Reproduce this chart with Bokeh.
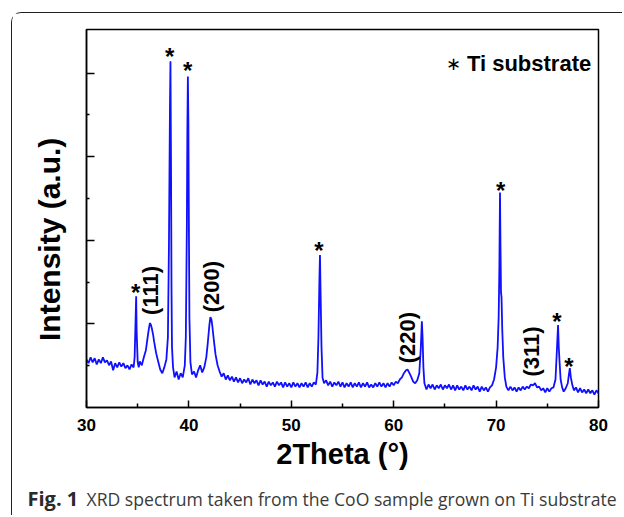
import math
from bokeh.plotting import figure
from bokeh.models import Range1d, FixedTicker
from bokeh.layouts import column
from bokeh.core.properties import value
from bokeh.embed import file_html
from bokeh.resources import INLINE

# ---- data (2Theta in degrees, intensity in a.u.) ----
two_theta = [
    30.0, 30.2, 30.4, 30.6, 30.8, 31.0, 31.2, 31.4, 31.6, 31.8,
    32.0, 32.2, 32.4, 32.6, 32.8, 33.0, 33.2, 33.4, 33.6, 33.8,
    34.0, 34.2, 34.4, 34.6, 34.7, 34.8, 34.85, 34.9, 35.0, 35.1,
    35.2, 35.4, 35.6, 35.8, 36.0, 36.1, 36.2, 36.3, 36.4, 36.5,
    36.6, 36.8, 37.0, 37.2, 37.4, 37.6, 37.8, 37.95, 38.05, 38.1,
    38.15, 38.2, 38.25, 38.3, 38.35, 38.45, 38.6, 38.8, 39.0, 39.2,
    39.4, 39.6, 39.7, 39.8, 39.85, 39.9, 39.95, 40.0, 40.05, 40.15,
    40.3, 40.5, 40.7, 40.9, 41.1, 41.3, 41.5, 41.7, 41.85, 42.0,
    42.1, 42.2, 42.3, 42.45, 42.6, 42.8, 43.0, 43.2, 43.4, 43.6,
    43.8, 44.0, 44.2, 44.4, 44.6, 44.8, 45.0, 45.2, 45.4, 45.6,
    45.8, 46.0, 46.2, 46.4, 46.6, 46.8, 47.0, 47.2, 47.4, 47.6,
    47.8, 48.0, 48.2, 48.4, 48.6, 48.8, 49.0, 49.2, 49.4, 49.6,
    49.8, 50.0, 50.2, 50.4, 50.6, 50.8, 51.0, 51.2, 51.4, 51.6,
    51.8, 52.0, 52.2, 52.4, 52.55, 52.65, 52.75, 52.8, 52.85, 52.95,
    53.05, 53.2, 53.4, 53.6, 53.8, 54.0, 54.2, 54.4, 54.6, 54.8,
    55.0, 55.2, 55.4, 55.6, 55.8, 56.0, 56.2, 56.4, 56.6, 56.8,
    57.0, 57.2, 57.4, 57.6, 57.8, 58.0, 58.2, 58.4, 58.6, 58.8,
    59.0, 59.2, 59.4, 59.6, 59.8, 60.0, 60.2, 60.4, 60.6, 60.8,
    61.0, 61.2, 61.35, 61.5, 61.7, 61.9, 62.1, 62.3, 62.5, 62.65,
    62.75, 62.82, 62.9, 63.0, 63.2, 63.4, 63.6, 63.8, 64.0, 64.2,
    64.4, 64.6, 64.8, 65.0, 65.2, 65.4, 65.6, 65.8, 66.0, 66.2,
    66.4, 66.6, 66.8, 67.0, 67.2, 67.4, 67.6, 67.8, 68.0, 68.2,
    68.4, 68.6, 68.8, 69.0, 69.2, 69.4, 69.6, 69.8, 70.0, 70.15,
    70.25, 70.32, 70.38, 70.43, 70.48, 70.53, 70.6, 70.7, 70.85, 71.0,
    71.2, 71.4, 71.6, 71.8, 72.0, 72.2, 72.4, 72.6, 72.8, 73.0,
    73.2, 73.4, 73.6, 73.8, 74.0, 74.2, 74.4, 74.6, 74.8, 75.0,
    75.2, 75.4, 75.6, 75.8, 75.95, 76.05, 76.12, 76.2, 76.3, 76.45,
    76.6, 76.8, 77.0, 77.1, 77.2, 77.3, 77.45, 77.6, 77.8, 78.0,
    78.2, 78.4, 78.6, 78.8, 79.0, 79.2, 79.4, 79.6, 79.8, 80.0,
]
intensity = [
    1150, 1060, 1200, 1080, 1180, 1030, 1150, 1060, 1200, 1080,
    1130, 1010, 1100, 890, 1060, 960, 1080, 980, 1060, 940,
    1010, 910, 1030, 960, 1200, 2160, 2660, 1800, 1080, 960,
    1100, 1010, 1200, 1370, 1730, 1900, 2020, 1970, 1870, 1750,
    1580, 1300, 1100, 910, 820, 960, 1150, 1680, 3840, 5520,
    7200, 8280, 6000, 2880, 1440, 960, 720, 860, 670, 820,
    720, 1010, 1680, 4320, 6650, 7920, 6840, 4320, 2160, 1080,
    790, 860, 720, 890, 1010, 840, 960, 1200, 1560, 1970,
    2160, 2110, 1920, 1580, 1270, 1010, 860, 740, 820, 670,
    770, 650, 740, 620, 720, 600, 700, 580, 670, 600,
    700, 550, 670, 580, 650, 530, 650, 550, 620, 500,
    620, 530, 600, 500, 620, 530, 600, 480, 600, 500,
    580, 480, 600, 500, 580, 480, 580, 500, 600, 480,
    580, 500, 600, 550, 840, 1680, 3120, 3650, 2880, 1440,
    720, 580, 650, 530, 620, 500, 600, 530, 620, 500,
    600, 480, 580, 500, 600, 480, 580, 500, 600, 480,
    580, 500, 600, 480, 550, 480, 580, 500, 600, 500,
    580, 480, 580, 500, 600, 530, 620, 580, 670, 720,
    820, 890, 910, 840, 740, 620, 580, 650, 820, 1440,
    2060, 1680, 960, 580, 430, 550, 460, 550, 430, 530,
    460, 550, 430, 530, 460, 550, 430, 530, 410, 530,
    430, 500, 410, 530, 430, 500, 410, 530, 430, 500,
    380, 500, 410, 480, 380, 480, 530, 670, 960, 1440,
    2160, 3360, 5140, 3840, 2740, 2640, 1870, 1200, 720, 500,
    410, 500, 410, 480, 380, 480, 410, 500, 430, 500,
    460, 550, 530, 580, 480, 500, 410, 460, 360, 460,
    380, 460, 480, 670, 1440, 1970, 1440, 1080, 670, 480,
    380, 460, 580, 770, 940, 720, 530, 410, 480, 360,
    460, 360, 430, 340, 430, 340, 410, 310, 410, 340,
]

# Ti substrate reflections marked with asterisks
star_x = [34.79, 38.12, 39.88, 52.70, 70.44, 75.94, 77.10]
star_y = [2850, 8490, 8160, 3850, 5290, 2150, 1080]

# CoO reflections
hkl_text = ["(111)", "(200)", "(220)", "(311)"]
hkl_x = [36.26, 42.19, 61.31, 73.47]
hkl_y = [2800, 2890, 1670, 1340]

x_ticks = [30, 40, 50, 60, 70, 80]
x_minor = [35, 45, 55, 65, 75]
y_ticks = [2000, 4000, 6000, 8000]
y_minor = [1000, 3000, 5000, 7000]

legend_text = "Ti substrate"
caption_bold = "Fig. 1"
caption_text = "XRD spectrum taken from the CoO sample grown on Ti substrate"

FONT = "Liberation Sans"

p = figure(width=610, height=470, output_backend="svg", toolbar_location=None,
           x_range=Range1d(30, 80), y_range=Range1d(0, 9042),
           min_border_left=74, min_border_right=24, min_border_top=16,
           min_border_bottom=76)
p.frame_align = False
p.xgrid.visible = False
p.ygrid.visible = False
p.outline_line_color = "black"
p.outline_line_width = 1.5
p.background_fill_color = "white"
p.border_fill_color = "white"

p.xaxis.ticker = FixedTicker(ticks=x_ticks, minor_ticks=x_minor)
p.yaxis.ticker = FixedTicker(ticks=y_ticks, minor_ticks=y_minor)
for ax in (p.xaxis, p.yaxis):
    ax.axis_line_color = "black"
    ax.axis_line_width = 1.5
    ax.major_tick_line_width = 1.5
    ax.minor_tick_line_width = 1.5
    ax.major_tick_out = 0
    ax.minor_tick_out = 0
    ax.axis_label_text_font = FONT
    ax.axis_label_text_font_style = "bold"
    ax.axis_label_text_color = "black"
p.xaxis.major_tick_in = 7
p.xaxis.minor_tick_in = 4
p.yaxis.major_tick_in = 8
p.yaxis.minor_tick_in = 3

p.xaxis.major_label_text_font = FONT
p.xaxis.major_label_text_font_style = "bold"
p.xaxis.major_label_text_font_size = "17px"
p.xaxis.major_label_text_color = "black"
p.xaxis.major_label_standoff = 11
p.xaxis.axis_label = "2Theta (°)"
p.xaxis.axis_label_text_font_size = "29px"
p.xaxis.axis_label_standoff = 4

p.yaxis.major_label_overrides = {t: "" for t in y_ticks}
p.yaxis.major_label_standoff = 0
p.yaxis.axis_label = "Intensity (a.u.)" + "\u00a0" * 5
p.yaxis.axis_label_text_font_size = "30px"
p.yaxis.axis_label_standoff = 21

p.line(two_theta, intensity, line_color="#1010ff", line_width=1.8)

p.text(star_x, star_y, text=["*"] * len(star_x), text_font=value(FONT),
       text_font_style="bold", text_font_size="24px", text_align="center",
       text_baseline="alphabetic", y_offset=4, text_color="black")

p.text(hkl_x, hkl_y, text=hkl_text, angle=math.pi / 2, text_font=value(FONT),
       text_font_style="bold", text_font_size="22px", text_align="center",
       text_baseline="middle", text_color="black")

p.text([65.87], [8228], text=["∗"], text_font=value(FONT),
       text_font_size="18px", text_align="center", text_baseline="middle",
       text_color="black")
p.text([67.15], [8228], text=[legend_text], text_font=value(FONT),
       text_font_style="bold", text_font_size="22px", text_align="left",
       text_baseline="middle", text_color="black")

# caption strip under the chart
cap = figure(width=610, height=32, output_backend="svg", toolbar_location=None,
             x_range=Range1d(0, 610), y_range=Range1d(0, 32), min_border=0,
             x_axis_type=None, y_axis_type=None)
cap.frame_align = False
cap.grid.visible = False
cap.outline_line_color = None
cap.background_fill_color = "white"
cap.border_fill_color = "white"
cap.text([15], [17], text=[caption_bold], text_font=value("Open Sans"),
         text_font_style="bold", text_font_size="20px", text_baseline="alphabetic",
         text_color="#2a2a2a")
cap.text([74], [17], text=[caption_text], text_font=value("Open Sans"),
         text_font_size="17.6px", text_baseline="alphabetic", text_color="#3a3a3a")

layout = column(p, cap, styles={
    "margin-left": "11px", "margin-top": "12px",
    "border-left": "1px solid #222", "border-top": "1px solid #222",
    "border-top-left-radius": "10px",
})

open("out.html", "w").write(file_html(layout, INLINE))
